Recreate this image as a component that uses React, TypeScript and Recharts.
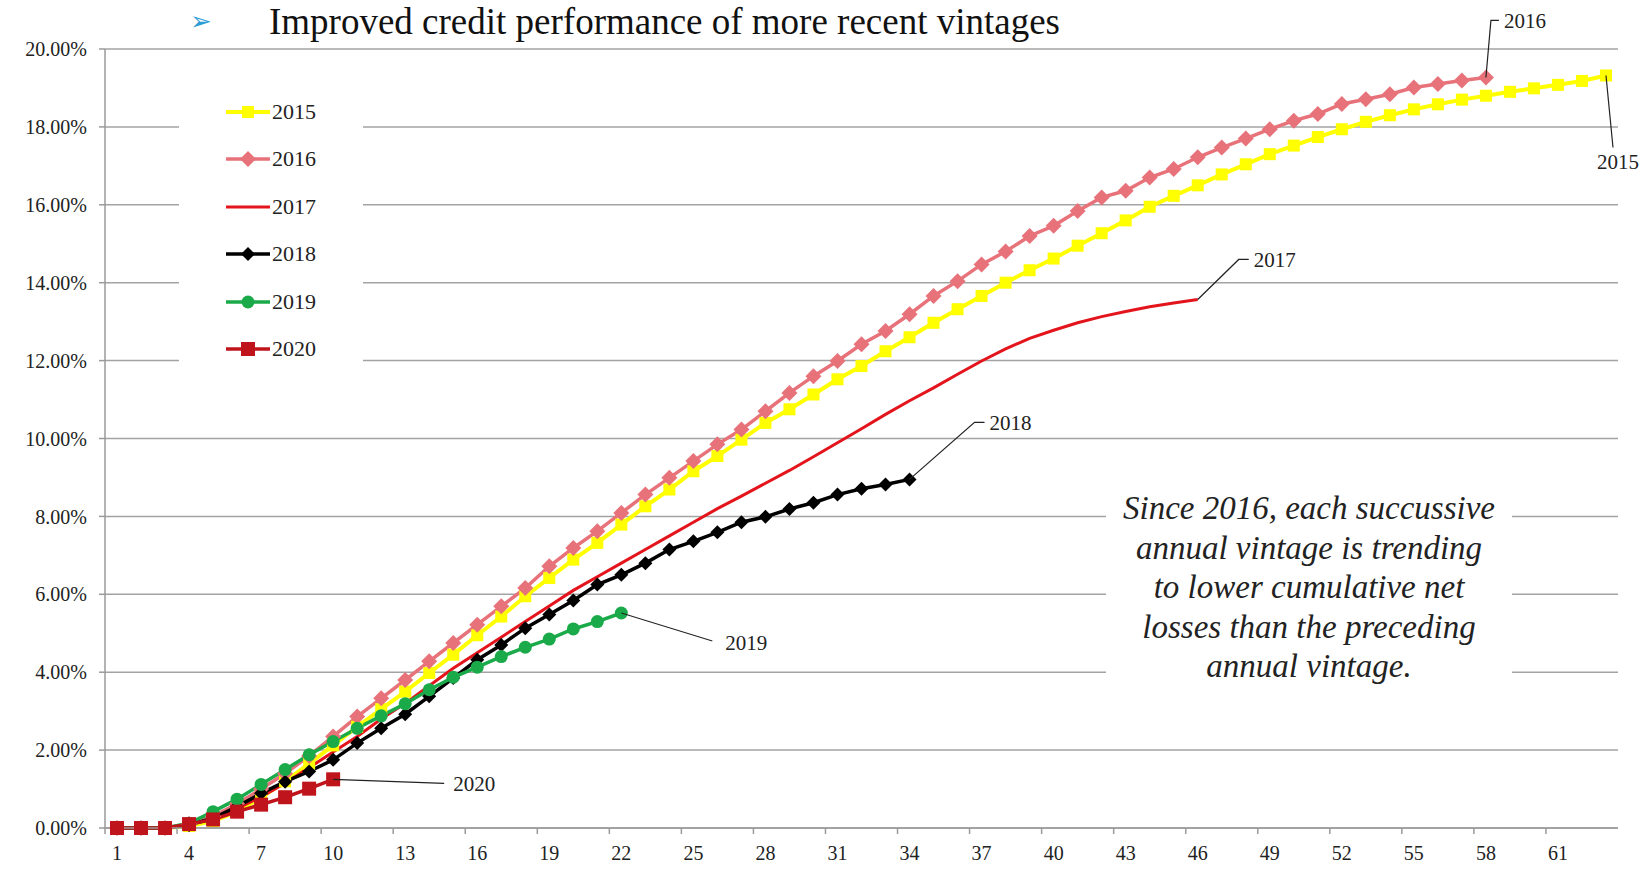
import { LineChart, Line, XAxis, YAxis, CartesianGrid } from 'recharts'

// months on book (category axis)
const months = [
  1, 2, 3, 4, 5, 6, 7, 8, 9, 10, 11, 12, 13, 14, 15, 16, 17, 18, 19, 20, 21,
  22, 23, 24, 25, 26, 27, 28, 29, 30, 31, 32, 33, 34, 35, 36, 37, 38, 39, 40, 41, 42,
  43, 44, 45, 46, 47, 48, 49, 50, 51, 52, 53, 54, 55, 56, 57, 58, 59, 60, 61, 62, 63,
]
const xTicks = [1, 4, 7, 10, 13, 16, 19, 22, 25, 28, 31, 34, 37, 40, 43, 46, 49, 52, 55, 58, 61]
const yTicks = [0, 2, 4, 6, 8, 10, 12, 14, 16, 18, 20]

// cumulative net loss, %
const v2015 = [
  0, 0, 0, 0.05, 0.18, 0.42, 0.78, 1.2, 1.65, 2.12, 2.6, 3.05, 3.5, 3.98, 4.45, 4.95, 5.43,
  5.95, 6.42, 6.89, 7.32, 7.79, 8.26, 8.69, 9.16, 9.55, 9.97, 10.4, 10.75, 11.13, 11.52,
  11.86, 12.24, 12.6, 12.97, 13.32, 13.66, 14.0, 14.32, 14.62, 14.95, 15.27, 15.6, 15.95,
  16.23, 16.5, 16.78, 17.04, 17.3, 17.52, 17.74, 17.94, 18.13, 18.3, 18.45, 18.58, 18.7,
  18.8, 18.9, 18.99, 19.08, 19.18, 19.32,
]
const v2016 = [
  0, 0, 0, 0.1, 0.3, 0.62, 1.0, 1.4, 1.85, 2.35, 2.86, 3.33, 3.8, 4.28, 4.75, 5.22, 5.69,
  6.16, 6.72, 7.19, 7.62, 8.09, 8.56, 8.99, 9.42, 9.85, 10.23, 10.7, 11.17, 11.6, 11.99,
  12.42, 12.76, 13.19, 13.66, 14.04, 14.47, 14.8, 15.2, 15.46, 15.84, 16.19, 16.36, 16.7,
  16.92, 17.22, 17.47, 17.7, 17.94, 18.16, 18.33, 18.59, 18.71, 18.84, 19.01, 19.1, 19.19,
  19.27,
]
const v2017 = [
  0, 0, 0, 0.08, 0.25, 0.5, 0.8, 1.15, 1.55, 1.95, 2.35, 2.8, 3.2, 3.65, 4.1, 4.5, 4.9, 5.3,
  5.7, 6.1, 6.45, 6.8, 7.15, 7.5, 7.85, 8.2, 8.52, 8.85, 9.18, 9.53, 9.89, 10.25, 10.62,
  10.97, 11.3, 11.65, 11.99, 12.3, 12.57, 12.78, 12.97, 13.13, 13.26, 13.38, 13.48, 13.57,
]
const v2018 = [
  0, 0, 0, 0.08, 0.25, 0.55, 0.89, 1.19, 1.45, 1.75, 2.18, 2.56, 2.92, 3.38, 3.85, 4.32,
  4.7, 5.13, 5.48, 5.84, 6.25, 6.5, 6.8, 7.15, 7.36, 7.59, 7.85, 7.99, 8.19, 8.35, 8.56,
  8.71, 8.82, 8.95,
]
const v2019 = [
  0, 0, 0, 0.12, 0.42, 0.74, 1.12, 1.5, 1.88, 2.22, 2.56, 2.88, 3.19, 3.55, 3.87, 4.13, 4.4,
  4.64, 4.85, 5.11, 5.3, 5.52,
]
const v2020 = [0, 0, 0, 0.1, 0.22, 0.42, 0.6, 0.79, 1.01, 1.25]

const noteLines = [
  'Since 2016, each succussive',
  'annual vintage is trending',
  'to lower cumulative net',
  'losses than the preceding',
  'annual vintage.',
]

const SERIF = "'Liberation Serif', 'Times New Roman', serif"

type Marker = 'square' | 'diamond' | 'circle' | 'none'
type Series = {
  key: string
  name: string
  values: number[]
  color: string
  width: number
  marker: Marker
  size: number
  // leader line from the last point, then label position (relative offsets)
  leader: [number, number][]
  label: [number, number]
  anchor: 'start' | 'middle'
}

const series: Series[] = [
  { key: 's2015', name: '2015', values: v2015, color: '#FFFF00', width: 4, marker: 'square', size: 6,
    leader: [[7, 72]], label: [12, 86], anchor: 'middle' },
  { key: 's2016', name: '2016', values: v2016, color: '#E8727A', width: 3.5, marker: 'diamond', size: 8,
    leader: [[5, -57], [13, -57]], label: [18, -57], anchor: 'start' },
  { key: 's2017', name: '2017', values: v2017, color: '#E3141B', width: 3, marker: 'none', size: 0,
    leader: [[41, -40], [51, -40]], label: [56, -40], anchor: 'start' },
  { key: 's2018', name: '2018', values: v2018, color: '#000000', width: 3.5, marker: 'diamond', size: 7,
    leader: [[65, -57], [75, -57]], label: [80, -57], anchor: 'start' },
  { key: 's2019', name: '2019', values: v2019, color: '#1BAA4A', width: 3.5, marker: 'circle', size: 6.5,
    leader: [[91, 28]], label: [104, 30], anchor: 'start' },
  { key: 's2020', name: '2020', values: v2020, color: '#C0141C', width: 3.5, marker: 'square', size: 7,
    leader: [[111, 4]], label: [120, 4], anchor: 'start' },
]

const data = months.map((m, i) => {
  const row: Record<string, number | null> = { m }
  series.forEach((s) => {
    row[s.key] = i < s.values.length ? s.values[i] : null
  })
  return row
})

function drawMarker(shape: Marker, cx: number, cy: number, size: number, color: string, key?: string) {
  if (shape === 'square')
    return <rect key={key} x={cx - size} y={cy - size} width={size * 2} height={size * 2} fill={color} />
  if (shape === 'diamond')
    return (
      <polygon
        key={key}
        points={`${cx},${cy - size} ${cx + size},${cy} ${cx},${cy + size} ${cx - size},${cy}`}
        fill={color}
      />
    )
  if (shape === 'circle') return <circle key={key} cx={cx} cy={cy} r={size} fill={color} />
  return null
}

function makeDot(s: Series) {
  const last = s.values.length - 1
  return (props: any) => {
    const { cx, cy, index } = props
    const k = `${s.key}-${index}`
    if (cx == null || cy == null || index > last) return <g key={k} />
    const marker = drawMarker(s.marker, cx, cy, s.size, s.color)
    if (index !== last) return <g key={k}>{marker}</g>
    const pts = [[cx, cy], ...s.leader.map(([dx, dy]) => [cx + dx, cy + dy])]
    return (
      <g key={k}>
        {marker}
        <polyline points={pts.map((p) => p.join(',')).join(' ')} fill="none" stroke="#222" strokeWidth={1.2} />
        <text
          x={cx + s.label[0]}
          y={cy + s.label[1]}
          dy="0.35em"
          textAnchor={s.anchor}
          fontFamily={SERIF}
          fontSize={21}
          fill="#222"
        >
          {s.name}
        </text>
      </g>
    )
  }
}

const XTick = (props: any) => {
  const { x, y, payload } = props
  const axisY = y - 14
  return (
    <g>
      <line x1={x - 12} x2={x - 12} y1={axisY} y2={axisY + 6} stroke="#9a9a9a" strokeWidth={1.5} />
      <text x={x} y={axisY + 25} dy="0.35em" textAnchor="middle" fontFamily={SERIF} fontSize={20} fill="#222">
        {payload.value}
      </text>
    </g>
  )
}

function LegendBox() {
  return (
    <div style={{ position: 'absolute', left: 179, top: 63, width: 184, height: 317, background: '#fff' }}>
      {series.map((s, i) => (
        <div
          key={s.key}
          style={{ position: 'absolute', left: 47, top: 49 + i * 47.4 - 12, height: 24, display: 'flex', alignItems: 'center' }}
        >
          <svg width={44} height={20}>
            <line x1={0} x2={44} y1={10} y2={10} stroke={s.color} strokeWidth={s.width} />
            {drawMarker(s.marker, 22, 10, s.size, s.color)}
          </svg>
          <span style={{ fontFamily: SERIF, fontSize: 22, color: '#222', marginLeft: 2 }}>{s.name}</span>
        </div>
      ))}
    </div>
  )
}

export default function App() {
  return (
    <div style={{ position: 'absolute', left: 0, top: 0, width: 1652, height: 874, background: '#fff', overflow: 'hidden' }}>
      <LineChart width={1652} height={874} data={data} margin={{ top: 49, right: 34, bottom: 6, left: 8 }}>
        <CartesianGrid vertical={false} stroke="#a3a3a3" strokeWidth={1.5} />
        <XAxis
          dataKey="m"
          type="number"
          domain={[0.5, 63.5]}
          ticks={xTicks}
          interval={0}
          tickLine={false}
          tickSize={0}
          tickMargin={14}
          height={40}
          axisLine={{ stroke: '#9a9a9a', strokeWidth: 1.5 }}
          tick={<XTick />}
        />
        <YAxis
          domain={[0, 20]}
          ticks={yTicks}
          interval={0}
          width={97}
          tickSize={6}
          tickMargin={12}
          tickFormatter={(v: number) => `${v.toFixed(2)}%`}
          axisLine={{ stroke: '#9a9a9a', strokeWidth: 1.5 }}
          tickLine={{ stroke: '#9a9a9a', strokeWidth: 1.5 }}
          tick={{ fill: '#222', fontSize: 20, fontFamily: SERIF }}
        />
        {series.map((s) => (
          <Line
            key={s.key}
            dataKey={s.key}
            name={s.name}
            type="linear"
            stroke={s.color}
            strokeWidth={s.width}
            dot={makeDot(s)}
            activeDot={false}
            connectNulls={false}
            isAnimationActive={false}
          />
        ))}
      </LineChart>

      {/* title */}
      <div style={{ position: 'absolute', left: 190, top: 0, height: 42, display: 'flex', alignItems: 'center' }}>
        <span style={{ fontFamily: "'DejaVu Sans', sans-serif", fontSize: 26, color: '#2C9CD6', width: 79 }}>➢</span>
        <span style={{ fontFamily: SERIF, fontSize: 37, color: '#111', whiteSpace: 'nowrap' }}>
          Improved credit performance of more recent vintages
        </span>
      </div>

      <LegendBox />

      {/* commentary box */}
      <div
        style={{
          position: 'absolute', left: 1106, top: 475, width: 406, height: 225, background: '#fff',
          paddingTop: 14, boxSizing: 'border-box', textAlign: 'center',
          fontFamily: SERIF, fontStyle: 'italic', fontSize: 33, lineHeight: '39.5px', color: '#222',
        }}
      >
        {noteLines.map((l) => (
          <div key={l}>{l}</div>
        ))}
      </div>
    </div>
  )
}
